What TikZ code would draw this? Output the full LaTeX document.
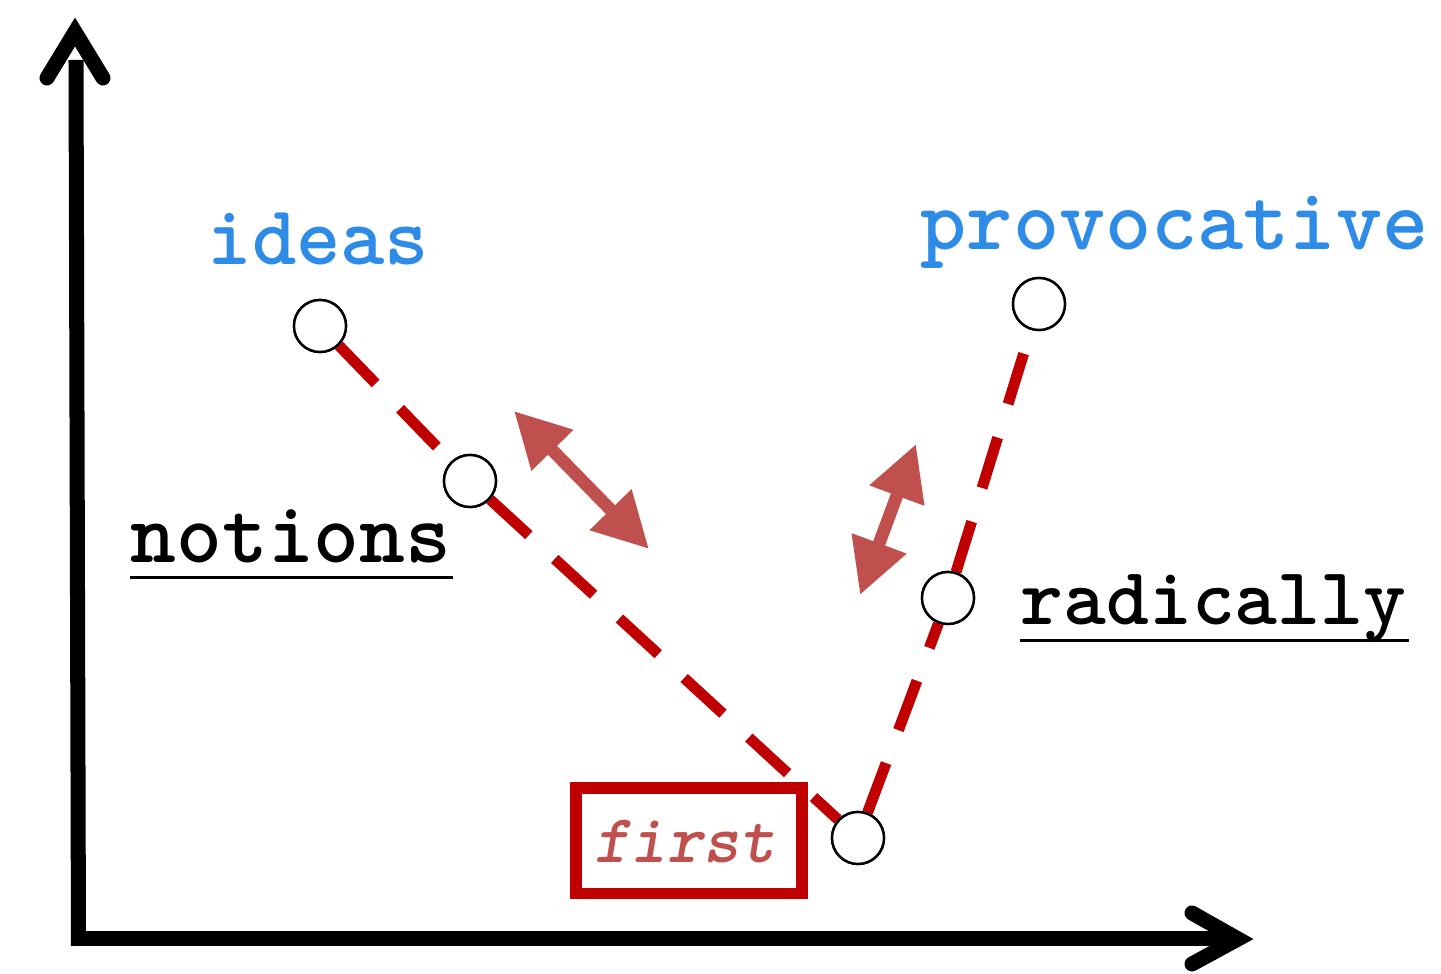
\documentclass[tikz,border=0pt]{standalone}
\usepackage{fontspec}
\usetikzlibrary{arrows.meta}
\definecolor{wordblue}{RGB}{46,139,230}
\definecolor{dashred}{RGB}{192,0,0}
\definecolor{arrowred}{RGB}{192,80,77}
\tikzset{
  axisline/.style={line width=4.27pt, line cap=butt, black},
  axishead/.style={line width=4.27pt, line cap=round, line join=miter, black},
  dot/.style={circle, draw=black, line width=0.7pt, fill=white, minimum size=0.52cm, inner sep=0pt},
  dashline/.style={dashred, line width=3.1pt, dash pattern=on 15pt off 10pt},
  dblarrow/.style={arrowred, line width=3.6pt, {Triangle[length=0.55cm,width=0.55cm]}-{Triangle[length=0.55cm,width=0.55cm]}},
  word/.style={inner sep=0pt, anchor=base west, font=\ttfamily\bfseries},
  uline/.style={line width=0.85pt, black},
  firstbox/.style={draw=dashred, line width=3.4pt, fill=white, minimum width=2.26cm, minimum height=1.05cm, inner sep=0pt}
}
\begin{document}
\begin{tikzpicture}[x=0.01cm,y=-0.01cm]
\useasboundingbox (0,0) rectangle (1441,974);
% axes
\draw[axisline] (78.5,946) -- (76,60);
\draw[axishead] (47,78) -- (75,32) -- (103,78);
\draw[axisline] (78,939) -- (1225,939);
\draw[axishead] (1192,913) -- (1238,939) -- (1192,964);
% circles
\node[dot] (ideasdot) at (320,326) {};
\node[dot] (notionsdot) at (470,481) {};
\node[dot] (lowdot) at (858,838) {};
\node[dot] (radicallydot) at (948,598) {};
\node[dot] (provdot) at (1039,304) {};
% dashed connectors
\draw[dashline] (ideasdot) -- (notionsdot);
\draw[dashline] (notionsdot) -- (lowdot);
\draw[dashline] (lowdot) -- (radicallydot);
\draw[dashline] (radicallydot) -- (provdot);
% redraw circles on top
\node[dot] at (ideasdot) {};
\node[dot] at (notionsdot) {};
\node[dot] at (lowdot) {};
\node[dot] at (radicallydot) {};
\node[dot] at (provdot) {};
% first box
\node[firstbox] (firstnode) at (689,841) {};
\node[inner sep=0pt, anchor=base, font=\ttfamily\bfseries\itshape\fontsize{19.5}{22}\selectfont, text=arrowred] (firsttext) at (685,863) {first};
% double arrows
\coordinate (la1) at (514,411);
\coordinate (la2) at (649,549);
\coordinate (ra1) at (916,444);
\coordinate (ra2) at (860,595);
\draw[dblarrow] (la1) -- (la2);
\draw[dblarrow] (ra1) -- (ra2);
% words
\node[word, text=wordblue, font=\ttfamily\bfseries\fontsize{24}{28}\selectfont] (ideas) at (207,265) {ideas};
\node[word, text=wordblue, font=\ttfamily\bfseries\fontsize{25}{30}\selectfont] (provocative) at (920,250) {provocative};
\node[word, font=\ttfamily\bfseries\fontsize{24.8}{30}\selectfont] (notions) at (130,563) {notions};
\node[word, font=\ttfamily\bfseries\fontsize{23.2}{28}\selectfont] (radically) at (1020,625) {radically};
\draw[uline] (130,578) -- (453,578);
\draw[uline] (1020,641) -- (1409,641);
\end{tikzpicture}
\end{document}
